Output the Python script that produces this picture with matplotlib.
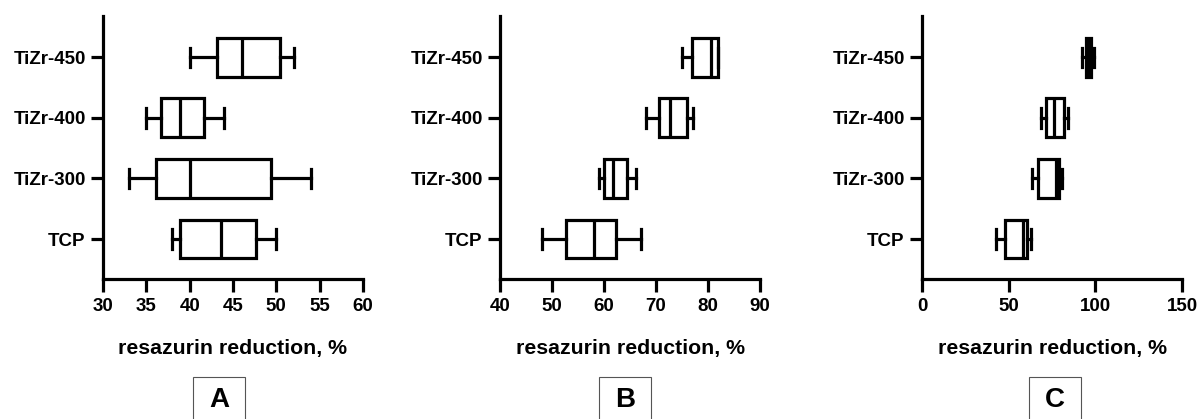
import matplotlib
matplotlib.use("Agg")
import matplotlib.pyplot as plt
import matplotlib.patches as patches

plt.rcParams["font.family"] = ["Liberation Sans", "DejaVu Sans"]
plt.rcParams["font.weight"] = "bold"

groups = ["TCP", "TiZr-300", "TiZr-400", "TiZr-450"]

# five-number summaries: min, q1, median, q3, max
a_min = [38, 33, 35, 40]
a_q1 = [38.9, 36.1, 36.7, 43.1]
a_med = [43.6, 40, 38.9, 46]
a_q3 = [47.6, 49.4, 41.6, 50.4]
a_max = [50, 54, 44, 52]

b_min = [48, 59.1, 68.1, 75]
b_q1 = [52.7, 60, 70.5, 76.9]
b_med = [58.1, 61.8, 72.6, 80.6]
b_q3 = [62.3, 64.4, 76, 81.9]
b_max = [67.1, 66.1, 77.1, 82]

c_min = [42.5, 63.5, 68.5, 92.5]
c_q1 = [48, 67.2, 71.5, 94.8]
c_med = [58.3, 77.5, 76, 96.2]
c_q3 = [60.3, 79, 81.7, 97.6]
c_max = [63, 80.5, 84, 99]

panels = [
    ("A", (a_min, a_q1, a_med, a_q3, a_max), (30, 60), range(30, 61, 5)),
    ("B", (b_min, b_q1, b_med, b_q3, b_max), (40, 90), range(40, 91, 10)),
    ("C", (c_min, c_q1, c_med, c_q3, c_max), (0, 150), range(0, 151, 50)),
]

W, H = 1200, 419
fig = plt.figure(figsize=(12, 4.19), dpi=100)
lefts = [103, 500, 922]
letter_x = [219, 625, 1055]
lw = 2.3

for (letter, summ, xlim, ticks), left, lx in zip(panels, lefts, letter_x):
    ax = fig.add_axes([left / W, 1 - 279 / H, 260 / W, (279 - 16) / H])
    mins, q1s, meds, q3s, maxs = summ
    stats = []
    for i, g in enumerate(groups):
        stats.append({"label": g, "whislo": mins[i], "q1": q1s[i], "med": meds[i],
                      "q3": q3s[i], "whishi": maxs[i], "fliers": []})
    ax.bxp(stats, positions=range(len(groups)), widths=0.64, orientation="horizontal",
           patch_artist=True, showfliers=False,
           boxprops=dict(facecolor="white", edgecolor="black", linewidth=lw),
           medianprops=dict(color="black", linewidth=lw),
           whiskerprops=dict(color="black", linewidth=lw),
           capprops=dict(color="black", linewidth=lw))
    ax.set_ylim(-0.66, 3.68)
    ax.set_xlim(*xlim)
    ax.set_xticks(list(ticks))
    ax.spines["top"].set_visible(False)
    ax.spines["right"].set_visible(False)
    for s in ("left", "bottom"):
        ax.spines[s].set_linewidth(lw)
    ax.tick_params(axis="both", width=lw, length=9, labelsize=13.5)
    ax.tick_params(axis="x", pad=5)
    for t in ax.get_xticklabels() + ax.get_yticklabels():
        t.set_fontweight("bold")
    ax.set_xlabel("resazurin reduction, %", fontsize=15.3, fontweight="bold", labelpad=17)

    rect = patches.Rectangle(((lx - 26) / W, -0.05), 52 / W, (419 - 377) / H + 0.05,
                             transform=fig.transFigure, fill=False, edgecolor="#555555",
                             linewidth=0.8, clip_on=False)
    fig.patches.append(rect)
    fig.text(lx / W, 1 - 400 / H, letter, ha="center", va="center", fontsize=20,
             fontweight="bold")

fig.savefig("out.png", dpi=100)
